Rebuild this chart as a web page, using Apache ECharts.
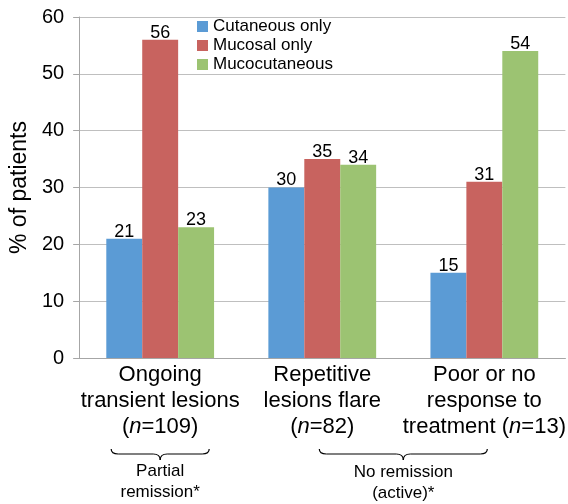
<!DOCTYPE html>
<html>
	<head>
		<meta charset="utf-8" />
		<title></title>
		<script src="https://cdn.jsdelivr.net/npm/echarts@6/dist/echarts.min.js" type="text/javascript"></script>
		<style>
			html, body { margin: 0; padding: 0; background: #fff; }
		</style>
	</head>
	<body>
		<div id="main" style="width: 568px; height: 504px;"></div>
		<script>
			var categories = ['Ongoing\ntransient lesions\n(n=109)', 'Repetitive\nlesions flare\n(n=82)', 'Poor or no\nresponse to\ntreatment (n=13)'];
			var seriesNames = ['Cutaneous only', 'Mucosal only', 'Mucocutaneous'];
			var cutaneous = [21, 30, 15];
			var mucosal = [56, 35, 31];
			var mucocutaneous = [23, 34, 54];
			var yTicks = [0, 10, 20, 30, 40, 50, 60];
			var colors = ['#5b9bd5', '#c8635f', '#9cc372'];
			var groupNotes = ['Partial\nremission*', 'No remission\n(active)*'];

			var font = '"Liberation Sans", Arial, sans-serif';
			var chart = echarts.init(document.getElementById('main'));

			function barSeries(name, data, color) {
				return {
					name: name,
					type: 'bar',
					data: data,
					barGap: 0,
					barCategoryGap: '33.5%',
					itemStyle: { color: color },
					label: {
						show: true,
						position: 'top',
						distance: -2,
						color: '#000',
						fontFamily: font,
						fontSize: 18
					}
				};
			}

			var option = {
				animation: false,
				textStyle: { fontFamily: font },
				grid: { left: 74, right: 2, top: 17, bottom: 146, containLabel: false },
				legend: {
					orient: 'vertical',
					left: 197,
					top: 18,
					padding: 0,
					itemGap: 2,
					itemWidth: 11,
					itemHeight: 11,
					icon: 'rect',
					data: seriesNames,
					textStyle: { fontSize: 17, color: '#000', fontFamily: font }
				},
				xAxis: {
					type: 'category',
					data: categories,
					axisLine: { lineStyle: { color: '#a6a6a6', width: 1 } },
					axisTick: { length: 5, lineStyle: { color: '#a6a6a6' } },
					axisLabel: {
						interval: 0,
						margin: 4,
						color: '#000',
						fontSize: 22,
						lineHeight: 26,
						fontFamily: font,
						formatter: function (v) { return v.replace('(n=', '({i|n}='); },
						rich: {
							i: { fontStyle: 'italic', fontSize: 22, lineHeight: 26, fontFamily: font, color: '#000' }
						}
					}
				},
				yAxis: {
					type: 'value',
					min: yTicks[0],
					max: yTicks[yTicks.length - 1],
					interval: 10,
					name: '% of patients',
					nameLocation: 'middle',
					nameGap: 38,
					nameTextStyle: { fontSize: 23, color: '#000', fontFamily: font },
					axisLine: { show: true, lineStyle: { color: '#a6a6a6' } },
					axisTick: { show: true, length: 6, lineStyle: { color: '#a6a6a6' } },
					splitLine: { lineStyle: { color: '#bfbfbf', width: 1 } },
					axisLabel: { color: '#000', fontSize: 20, margin: 15, fontFamily: font }
				},
				series: [
					barSeries(seriesNames[0], cutaneous, colors[0]),
					barSeries(seriesNames[1], mucosal, colors[1]),
					barSeries(seriesNames[2], mucocutaneous, colors[2])
				]
			};
			chart.setOption(option);

			// curly braces + notes under the categories
			var braceStyle = { fill: null, stroke: '#000', lineWidth: 1.2 };
			function curve(xa, ya, cx, cy, xb, yb) {
				return { type: 'bezierCurve', shape: { x1: xa, y1: ya, cpx1: cx, cpy1: cy, x2: xb, y2: yb }, style: braceStyle };
			}
			function seg(xa, ya, xb, yb) {
				return { type: 'line', shape: { x1: xa, y1: ya, x2: xb, y2: yb }, style: braceStyle };
			}
			function brace(c, half, y0) {
				var x0 = c - half, x1 = c + half, y1 = y0 + 5, y2 = y0 + 11;
				return {
					type: 'group',
					children: [
						curve(x0, y0, x0, y1, x0 + 7, y1),
						seg(x0 + 7, y1, c - 7, y1),
						curve(c - 7, y1, c, y1, c, y2),
						curve(c, y2, c, y1, c + 7, y1),
						seg(c + 7, y1, x1 - 7, y1),
						curve(x1 - 7, y1, x1, y1, x1, y0)
					]
				};
			}
			var c0 = chart.convertToPixel({ xAxisIndex: 0 }, 0);
			var c1 = chart.convertToPixel({ xAxisIndex: 0 }, 1);
			var c2 = chart.convertToPixel({ xAxisIndex: 0 }, 2);
			var mid12 = (c1 + c2) / 2;
			var braceTop = 449;
			chart.setOption({
				graphic: [
					brace(c0, 49, braceTop),
					brace(mid12, 84, braceTop),
					{ type: 'text', x: c0, y: 461, style: { text: groupNotes[0], fontSize: 17, lineHeight: 21, fontFamily: font, fill: '#000', align: 'center', verticalAlign: 'top' } },
					{ type: 'text', x: mid12, y: 462, style: { text: groupNotes[1], fontSize: 17, lineHeight: 21, fontFamily: font, fill: '#000', align: 'center', verticalAlign: 'top' } }
				]
			});
		</script>
	</body>
</html>
